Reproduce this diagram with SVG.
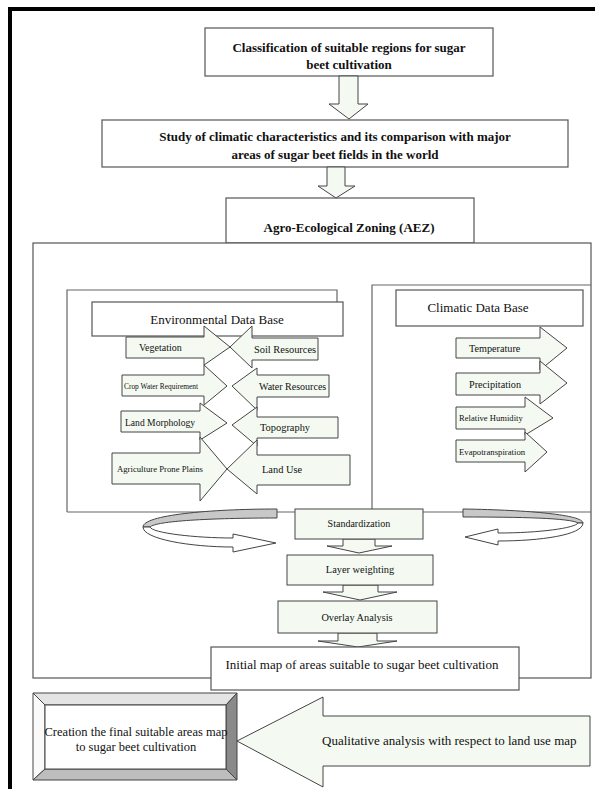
<svg xmlns="http://www.w3.org/2000/svg" width="595" height="789" viewBox="0 0 595 789">
<style>
.bx{fill:#ffffff;stroke:#555;stroke-width:1.2}
.ar{fill:#f4faf2;stroke:#444;stroke-width:1}
.ln{fill:none;stroke:#666;stroke-width:1.2}
.tb{font-family:"Liberation Serif",serif;font-weight:bold;font-size:13px;fill:#111;text-anchor:middle}
.t{font-family:"Liberation Serif",serif;fill:#111}
.c{text-anchor:middle}
</style>
<rect width="595" height="789" fill="#ffffff"/>
<path d="M10,789 V9 H595" fill="none" stroke="#000" stroke-width="4"/>

<g id="n-classification">
<rect class="bx" x="205" y="28" width="288" height="48"/>
<text class="tb" x="349" y="52">Classification of suitable regions for sugar</text>
<text class="tb" x="349" y="69">beet cultivation</text>
</g>
<g id="n-study">
<rect class="bx" x="102" y="120" width="466" height="47"/>
<text class="tb" x="335" y="141">Study of climatic characteristics and its comparison with major</text>
<text class="tb" x="335" y="159">areas of sugar beet fields in the world</text>
</g>
<g id="n-aez">
<rect class="bx" x="226" y="198" width="248" height="45"/>
<text class="tb" x="349" y="232">Agro-Ecological Zoning (AEZ)</text>
</g>
<g id="n-bigbox">
<rect class="bx" x="33" y="243" width="558" height="435" fill="none"/>
</g>
<g id="containers">
<path class="ln" d="M67,512 V290 H337 V302"/>
<path class="ln" d="M372,512 V285 H591"/>
<path class="ln" d="M67,512 H591"/>
</g>
<g id="n-envdb">
<rect class="bx" x="92" y="302" width="251" height="34"/>
<text class="t c" x="217" y="324" font-size="13">Environmental Data Base</text>
</g>
<g id="n-climdb">
<rect class="bx" x="396" y="290" width="187" height="36"/>
<text class="t c" x="478" y="312" font-size="13">Climatic Data Base</text>
</g>

<g id="n-vegetation">
<polygon class="ar" points="126,337 204,337 204,326 230,347 204,365 204,358 126,358"/>
<text class="t" x="139" y="351" font-size="10">Vegetation</text>
</g>
<g id="n-soil">
<polygon class="ar" points="318,338 252,338 252,326 230,347 252,368 252,360 318,360"/>
<text class="t" x="254" y="353" font-size="10.4">Soil Resources</text>
</g>
<g id="n-cropwater">
<polygon class="ar" points="122,375 204,375 204,365 227,386 204,405 204,396 122,396"/>
<text class="t" x="124" y="389" font-size="7.4">Crop Water Requirement</text>
</g>
<g id="n-waterres">
<polygon class="ar" points="329,375 257,375 257,368 232,386 257,410 257,397 329,397"/>
<text class="t" x="259" y="390" font-size="10">Water Resources</text>
</g>
<g id="n-landmorph">
<polygon class="ar" points="121,411 200,411 200,403 227,423 200,440 200,432 121,432"/>
<text class="t" x="125" y="426" font-size="9.6">Land Morphology</text>
</g>
<g id="n-topography">
<polygon class="ar" points="338,417 257,417 257,407 232,425 257,446 257,438 338,438"/>
<text class="t" x="260" y="431" font-size="10.4">Topography</text>
</g>
<g id="n-agri">
<polygon class="ar" points="112,453 200,453 200,437 227,469 200,501 200,484 112,484"/>
<text class="t" x="117" y="472" font-size="8.7">Agriculture Prone Plains</text>
</g>
<g id="n-landuse">
<polygon class="ar" points="350,455 257,455 257,440 227,469 257,494 257,485 350,485"/>
<text class="t" x="262" y="473" font-size="10.4">Land Use</text>
</g>

<g id="n-temperature">
<polygon class="ar" points="456,338 540,338 540,327 567,348 540,370 540,358 456,358"/>
<text class="t" x="469" y="352" font-size="10.2">Temperature</text>
</g>
<g id="n-precipitation">
<polygon class="ar" points="456,373 540,373 540,361 567,383 540,404 540,395 456,395"/>
<text class="t" x="469" y="388" font-size="10.2">Precipitation</text>
</g>
<g id="n-humidity">
<polygon class="ar" points="456,407 525,407 525,397 553,418 525,435 525,429 456,429"/>
<text class="t" x="459" y="421" font-size="8.6">Relative Humidity</text>
</g>
<g id="n-evapo">
<polygon class="ar" points="456,440 525,440 525,432 547,452 525,472 525,462 456,462"/>
<text class="t" x="459" y="455" font-size="8.7">Evapotranspiration</text>
</g>

<g id="connectors">
<polygon class="ar" fill="#ffffff" points="339,76 358,76 358,104 368,104 349,119 329,104 339,104"/>
<polygon class="ar" points="327,167 345,167 345,186 355,186 336,198 318,186 327,186"/>
<path d="M277,509 C210,509 143,515 143,527 L150,527 C156,521 210,518 277,518 Z" fill="#c8c8c8" stroke="#444" stroke-width="1"/>
<path d="M143,527 C143,539 190,547 233,547 L233,552 L276,543 L233,534 L233,538 C195,538 152,533 150,527 Z" fill="#fff" stroke="#444" stroke-width="1"/>
<path d="M463,509 C530,510 583,515 583,523 L578,523 C570,518 520,517 463,517 Z" fill="#c8c8c8" stroke="#444" stroke-width="1"/>
<path d="M583,523 C583,535 540,541 498,541 L498,545 L465,537 L498,529 L498,533 C540,533 575,528 578,523 Z" fill="#fff" stroke="#444" stroke-width="1"/>
<polygon class="ar" points="343,539 375,539 375,546 392,546 359,553 327,546 343,546"/>
<polygon class="ar" points="343,585 378,585 378,592 397,592 360,600 323,592 343,592"/>
<polygon class="ar" points="338,633 377,633 377,641 397,641 358,647 318,641 338,641"/>
<polygon class="ar" points="590,716 323,716 323,697 237,741 323,787 323,766 590,766"/>
</g>

<g id="n-standardization">
<rect class="ar" x="295" y="509" width="128" height="30"/>
<text class="t c" x="359" y="527" font-size="10">Standardization</text>
</g>
<g id="n-layer">
<rect class="ar" x="287" y="555" width="146" height="30"/>
<text class="t c" x="360" y="573" font-size="10.4">Layer weighting</text>
</g>
<g id="n-overlay">
<rect class="ar" x="278" y="601" width="159" height="32"/>
<text class="t c" x="357" y="621" font-size="10.3">Overlay Analysis</text>
</g>
<g id="n-initial">
<rect class="bx" x="211" y="647" width="308" height="43"/>
<text class="t c" x="362" y="669" font-size="13">Initial map of areas suitable to sugar beet cultivation</text>
</g>
<g id="n-qualitative">
<text class="t" x="322" y="745" font-size="13">Qualitative analysis with respect to land use map</text>
</g>
<g id="n-final">
<polygon points="33,693 237,693 226,705 45,705" fill="#e4e4e4" stroke="#444" stroke-width="1"/>
<polygon points="33,693 45,705 45,769 33,780" fill="#fafafa" stroke="#444" stroke-width="1"/>
<polygon points="33,780 237,780 226,769 45,769" fill="#bdbdbd" stroke="#444" stroke-width="1"/>
<polygon points="237,693 237,780 226,769 226,705" fill="#8a8a8a" stroke="#444" stroke-width="1"/>
<rect x="45" y="705" width="181" height="64" fill="#fff" stroke="#444" stroke-width="1"/>
<text class="t c" x="136" y="736" font-size="12.5">Creation the final suitable areas map</text>
<text class="t c" x="136" y="751" font-size="12.5">to sugar beet cultivation</text>
</g>
</svg>
